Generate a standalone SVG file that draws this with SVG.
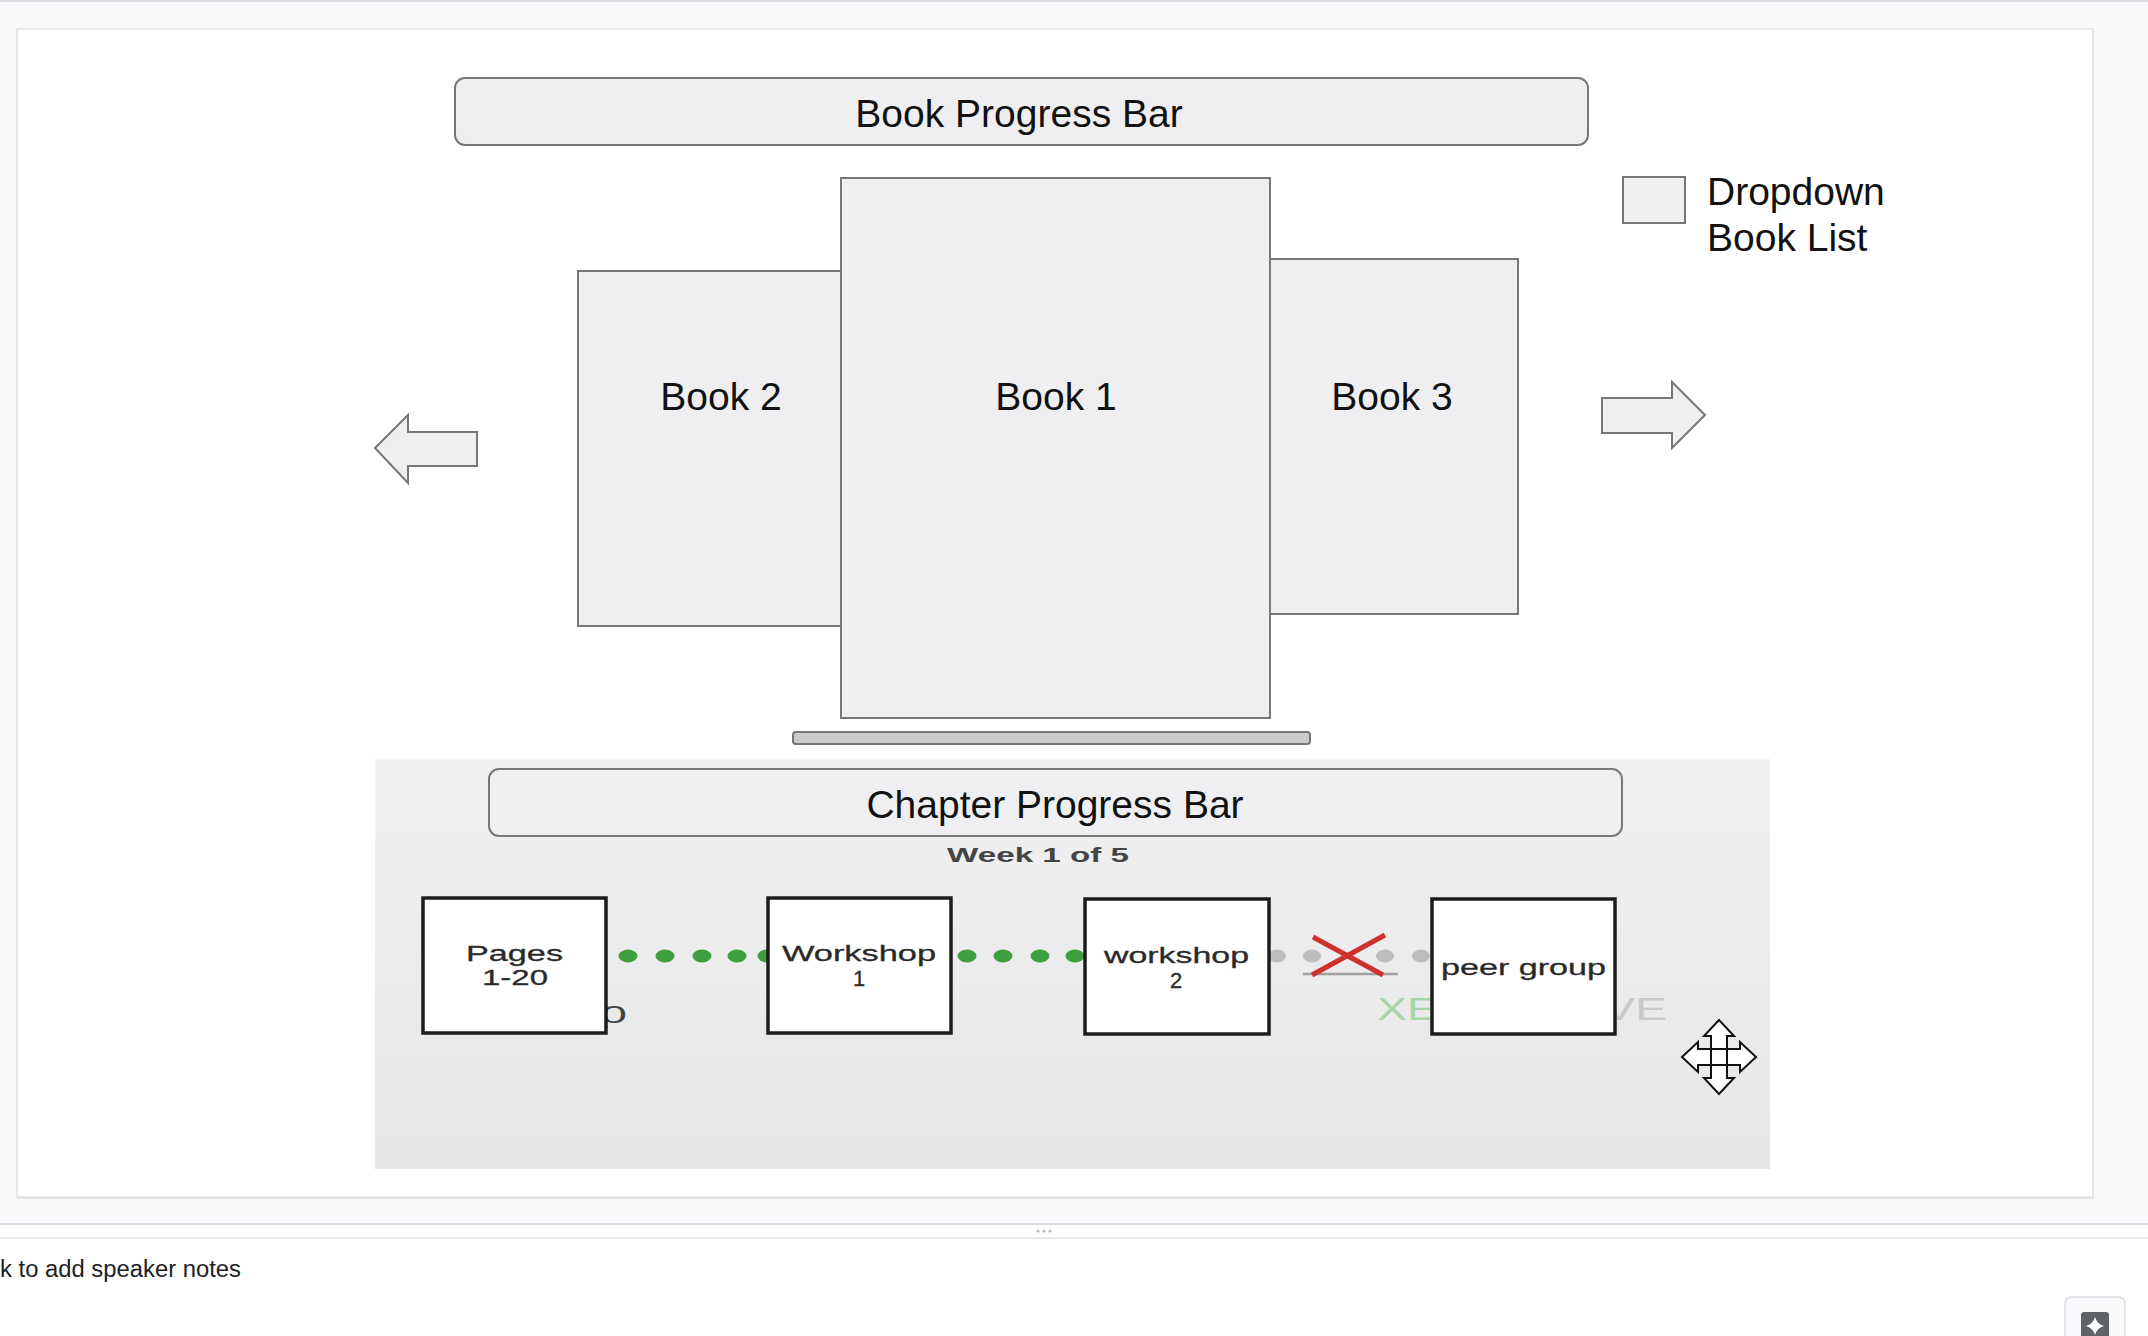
<svg xmlns="http://www.w3.org/2000/svg" width="2148" height="1336" viewBox="0 0 2148 1336">
<defs>
<style>
.t{font-family:"Liberation Sans",Arial,sans-serif;fill:#111;}
.big{font-size:39px;}
.shape{fill:#efeff1;stroke:#777;stroke-width:2;}
.box{fill:#fff;stroke:#1c1c1c;stroke-width:3.5;}
.sm{font-family:"Liberation Sans",Arial,sans-serif;font-size:22px;fill:#2a2a2a;stroke:#2a2a2a;stroke-width:0.3;}
.gd{fill:#3f9e3f;}
.gy{fill:#bdbdbd;}
.cur{fill:none;stroke:#111;stroke-width:2;stroke-linejoin:miter;}
</style>
<linearGradient id="chbg" x1="0" y1="0" x2="0" y2="1">
<stop offset="0" stop-color="#f1f1f2"/>
<stop offset="1" stop-color="#e6e6e8"/>
</linearGradient>
</defs>

<!-- page chrome -->
<g id="page">
<rect x="0" y="0" width="2148" height="1336" fill="#f8f9fa"/>
<line x1="0" y1="1" x2="2148" y2="1" stroke="#dadce0" stroke-width="2"/>
<rect x="18" y="31" width="2076" height="1168" fill="#e3e3e3"/>
<rect x="17" y="29" width="2076" height="1168" fill="#ffffff" stroke="#e0e0e0" stroke-width="1.5"/>
<rect x="0" y="1224" width="2148" height="112" fill="#ffffff"/>
<line x1="0" y1="1224" x2="2148" y2="1224" stroke="#dadce0" stroke-width="2"/>
<line x1="0" y1="1238" x2="2148" y2="1238" stroke="#e8eaed" stroke-width="2"/>
<circle cx="1038" cy="1231" r="1.6" fill="#bbb"/>
<circle cx="1044" cy="1231" r="1.6" fill="#bbb"/>
<circle cx="1050" cy="1231" r="1.6" fill="#bbb"/>
<text x="0" y="1277" font-family="'Liberation Sans',Arial,sans-serif" font-size="23" fill="#202124" textLength="241" lengthAdjust="spacingAndGlyphs">k to add speaker notes</text>
<rect x="2065" y="1297" width="60" height="50" rx="6" fill="#f8f9fa" stroke="#dadce0" stroke-width="1.5"/>
<rect x="2081" y="1312" width="28" height="30" rx="3" fill="#5f6368"/>
<path d="M2095,1317 Q2097,1324 2104,1326 Q2097,1328 2095,1335 Q2093,1328 2086,1326 Q2093,1324 2095,1317 Z" fill="#fff"/>
</g>

<!-- Book section -->
<g id="book-progress-bar">
<rect x="455" y="78" width="1133" height="67" rx="10" class="shape"/>
<text x="1019" y="127" class="t big" text-anchor="middle">Book Progress Bar</text>
</g>

<g id="book2">
<rect x="578" y="271" width="263" height="355" class="shape"/>
<text x="721" y="410" class="t big" text-anchor="middle">Book 2</text>
</g>
<g id="book3">
<rect x="1270" y="259" width="248" height="355" class="shape"/>
<text x="1392" y="410" class="t big" text-anchor="middle">Book 3</text>
</g>
<g id="book1">
<rect x="841" y="178" width="429" height="540" class="shape"/>
<text x="1056" y="410" class="t big" text-anchor="middle">Book 1</text>
</g>

<g id="left-arrow">
<path d="M375,448 L408,415 L408,432 L477,432 L477,466 L408,466 L408,483 Z" class="shape"/>
</g>
<g id="right-arrow">
<path d="M1602,398 L1672,398 L1672,382 L1705,415 L1672,448 L1672,433 L1602,433 Z" class="shape"/>
</g>

<g id="dropdown">
<rect x="1623" y="177" width="62" height="46" class="shape"/>
<text x="1707" y="205" class="t big">Dropdown</text>
<text x="1707" y="251" class="t big">Book List</text>
</g>

<g id="scroll-bar">
<rect x="793" y="732" width="517" height="12" rx="3" fill="#cbcbcd" stroke="#777" stroke-width="2"/>
</g>

<!-- Chapter section -->
<g id="chapter-panel">
<rect x="375" y="759" width="1395" height="410" fill="url(#chbg)"/>
</g>

<g id="chapter-progress-bar">
<rect x="489" y="769" width="1133" height="67" rx="10" class="shape"/>
<text x="1055" y="818" class="t big" text-anchor="middle">Chapter Progress Bar</text>
</g>

<g id="week-label">
<text x="947" y="862" font-family="'Liberation Sans',Arial,sans-serif" font-size="21" font-weight="bold" fill="#444" textLength="182" lengthAdjust="spacingAndGlyphs">Week 1 of 5</text>
</g>

<g id="faded-text">
<text x="601" y="1023" font-family="'Liberation Sans',Arial,sans-serif" font-size="24" fill="#444" textLength="26" lengthAdjust="spacingAndGlyphs">0</text>
<text x="1377" y="1020" font-family="'Liberation Sans',Arial,sans-serif" font-size="32" fill="#a9d3a9" textLength="60" lengthAdjust="spacingAndGlyphs">XE</text>
<text x="1603" y="1020" font-family="'Liberation Sans',Arial,sans-serif" font-size="32" fill="#c9c9cb" textLength="64" lengthAdjust="spacingAndGlyphs">VE</text>
</g>

<g id="connectors">
<ellipse cx="628" cy="956" rx="9.5" ry="6.5" class="gd"/>
<ellipse cx="665" cy="956" rx="9.5" ry="6.5" class="gd"/>
<ellipse cx="702" cy="956" rx="9.5" ry="6.5" class="gd"/>
<ellipse cx="737" cy="956" rx="9.5" ry="6.5" class="gd"/>
<ellipse cx="767" cy="956" rx="9.5" ry="6.5" class="gd"/>
<ellipse cx="967" cy="956" rx="9.5" ry="6.5" class="gd"/>
<ellipse cx="1003" cy="956" rx="9.5" ry="6.5" class="gd"/>
<ellipse cx="1040" cy="956" rx="9.5" ry="6.5" class="gd"/>
<ellipse cx="1075" cy="956" rx="9.5" ry="6.5" class="gd"/>
<ellipse cx="1277" cy="956" rx="9" ry="6.5" class="gy"/>
<ellipse cx="1312" cy="956" rx="9" ry="6.5" class="gy"/>
<ellipse cx="1385" cy="956" rx="9" ry="6.5" class="gy"/>
<ellipse cx="1421" cy="956" rx="9" ry="6.5" class="gy"/>
<line x1="1303" y1="974" x2="1398" y2="974" stroke="#a0a0a0" stroke-width="2.5"/>
<line x1="1312" y1="975" x2="1385" y2="935" stroke="#d0312d" stroke-width="5"/>
<line x1="1313" y1="937" x2="1383" y2="975" stroke="#d0312d" stroke-width="5"/>
</g>

<g id="pages">
<rect x="423" y="898" width="183" height="135" class="box"/>
<text x="466" y="961" class="sm" textLength="97" lengthAdjust="spacingAndGlyphs">Pages</text>
<text x="482" y="985" class="sm" textLength="66" lengthAdjust="spacingAndGlyphs">1-20</text>
</g>
<g id="workshop1">
<rect x="768" y="898" width="183" height="135" class="box"/>
<text x="782" y="961" class="sm" textLength="154" lengthAdjust="spacingAndGlyphs">Workshop</text>
<text x="859" y="986" class="sm" text-anchor="middle">1</text>
</g>
<g id="workshop2">
<rect x="1085" y="899" width="184" height="135" class="box"/>
<text x="1104" y="963" class="sm" textLength="145" lengthAdjust="spacingAndGlyphs">workshop</text>
<text x="1176" y="988" class="sm" text-anchor="middle">2</text>
</g>
<g id="peer-group">
<rect x="1432" y="899" width="183" height="135" class="box"/>
<text x="1441" y="975" class="sm" textLength="165" lengthAdjust="spacingAndGlyphs">peer group</text>
</g>

<g id="move-cursor" transform="translate(1719,1057)">
<path d="M0,-37 L15,-21 L8,-21 L8,-8 L21,-8 L21,-15 L37,0 L21,15 L21,8 L8,8 L8,21 L15,21 L0,37 L-15,21 L-8,21 L-8,8 L-21,8 L-21,15 L-37,0 L-21,-15 L-21,-8 L-8,-8 L-8,-21 L-15,-21 Z" fill="#fff"/>
<path d="M0,-37 L15,-21 L8,-21 L8,21 L15,21 L0,37 L-15,21 L-8,21 L-8,-21 L-15,-21 Z" class="cur"/>
<path d="M-37,0 L-21,-15 L-21,-8 L21,-8 L21,-15 L37,0 L21,15 L21,8 L-21,8 L-21,15 Z" class="cur"/>
</g>
</svg>
